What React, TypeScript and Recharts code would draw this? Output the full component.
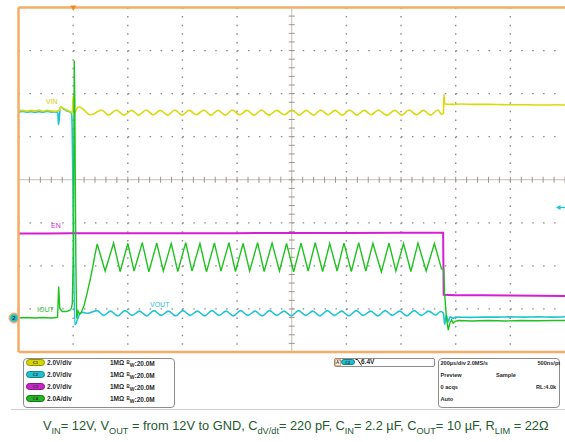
import { LineChart, Line, XAxis, YAxis, ReferenceLine } from "recharts";

type Pt = [number, number];

// x = time in µs (trigger at 0, 200 µs/div), y = screen divisions (centre = 0)
const X_DIVS = [-200, 0, 200, 400, 600, 800, 1000, 1200, 1400, 1600, 1800];
const Y_DIVS = [-4, -3, -2, -1, 0, 1, 2, 3, 4];

const X_MINOR = X_DIVS.slice(0, -1)
  .flatMap((v) => [v, v + 40, v + 80, v + 120, v + 160])
  .concat(1800);
const Y_MINOR = Y_DIVS.slice(0, -1)
  .flatMap((v) => [v, v + 0.2, v + 0.4, v + 0.6, v + 0.8].map((n) => Math.round(n * 10) / 10))
  .concat(4);

// C1 VIN (yellow)
const VIN: Pt[] = [
  [-200, 1.6], [-185, 1.61], [-170, 1.59], [-155, 1.61], [-140, 1.6], [-125, 1.62], [-110, 1.59],
  [-95, 1.61], [-80, 1.6], [-65, 1.59], [-55, 1.6], [-48, 1.63], [-44, 1.7], [-38, 1.67],
  [-30, 1.64], [-20, 1.61], [-10, 1.58], [-3, 1.55], [0, 1.95], [2, 1.9], [5, 1.55], [10, 1.6],
  [16, 1.68], [22, 1.69], [32, 1.66], [45, 1.59], [60, 1.51], [72, 1.52], [88, 1.58],
  [104, 1.62], [129, 1.5], [158, 1.62], [186, 1.5], [214, 1.61], [240, 1.5], [267, 1.62],
  [293, 1.51], [319, 1.61], [346, 1.5], [372, 1.62], [398, 1.5], [425, 1.61], [451, 1.51],
  [478, 1.62], [504, 1.5], [530, 1.61], [557, 1.5], [583, 1.62], [609, 1.51], [636, 1.61],
  [662, 1.5], [689, 1.62], [717, 1.5], [745, 1.61], [773, 1.51], [801, 1.62], [827, 1.5],
  [853, 1.61], [880, 1.5], [906, 1.62], [933, 1.51], [959, 1.61], [985, 1.5], [1012, 1.62],
  [1038, 1.5], [1065, 1.61], [1091, 1.51], [1117, 1.62], [1147, 1.5], [1177, 1.61],
  [1203, 1.5], [1229, 1.62], [1256, 1.51], [1282, 1.61], [1308, 1.5], [1335, 1.62],
  [1348, 1.52], [1355, 1.54], [1357, 1.98], [1360, 1.76], [1380, 1.75], [1420, 1.76],
  [1470, 1.75], [1520, 1.75], [1570, 1.745], [1620, 1.74], [1670, 1.74], [1720, 1.735],
  [1770, 1.74], [1800, 1.735],
];

// C2 VOUT (cyan)
const VOUT: Pt[] = [
  [-200, 1.57], [-185, 1.585], [-170, 1.57], [-155, 1.58], [-140, 1.565], [-125, 1.58],
  [-110, 1.57], [-95, 1.585], [-80, 1.57], [-65, 1.575], [-56, 1.57], [-54, 1.28], [-51, 1.4],
  [-47, 1.69], [-42, 1.68], [-34, 1.64], [-24, 1.6], [-14, 1.58], [-7, 1.55], [-5, 1.5],
  [6, -3.37], [10, -3.34], [16, -3.24], [24, -3.12], [34, -3.08], [50, -3.1], [66, -3.08],
  [88, -3.04], [112, -3.15], [137, -3.05], [163, -3.16], [190, -3.04], [216, -3.15],
  [243, -3.05], [269, -3.16], [296, -3.04], [322, -3.15], [349, -3.05], [375, -3.16],
  [402, -3.04], [428, -3.15], [455, -3.05], [481, -3.16], [508, -3.04], [534, -3.15],
  [560, -3.05], [586, -3.16], [613, -3.04], [639, -3.15], [666, -3.05], [692, -3.16],
  [719, -3.04], [745, -3.15], [772, -3.05], [798, -3.16], [825, -3.04], [851, -3.15],
  [877, -3.05], [903, -3.16], [930, -3.04], [956, -3.15], [983, -3.05], [1009, -3.16],
  [1036, -3.04], [1062, -3.15], [1089, -3.05], [1115, -3.16], [1142, -3.04], [1168, -3.15],
  [1195, -3.05], [1221, -3.16], [1248, -3.04], [1274, -3.15], [1301, -3.05], [1327, -3.14],
  [1345, -3.06], [1355, -3.1], [1360, -3.36], [1366, -3.14], [1372, -3.3], [1380, -3.18],
  [1390, -3.22], [1400, -3.19], [1450, -3.195], [1500, -3.19], [1550, -3.19], [1600, -3.185],
  [1650, -3.19], [1700, -3.185], [1750, -3.19], [1800, -3.18],
];

// C3 EN (magenta)
const EN: Pt[] = [
  [-200, -1.25], [-100, -1.248], [0, -1.245], [200, -1.245], [400, -1.24], [600, -1.24],
  [800, -1.235], [1000, -1.235], [1200, -1.23], [1354, -1.23], [1356, -2.67], [1400, -2.68],
  [1500, -2.685], [1600, -2.69], [1700, -2.695], [1800, -2.7],
];

// C4 IOUT (green)
const IOUT: Pt[] = [
  [-200, -3.21], [-170, -3.2], [-140, -3.21], [-110, -3.2], [-80, -3.21], [-62, -3.2],
  [-57, -3.19], [-53, -2.48], [-49, -2.99], [-40, -3.06], [-24, -3.06], [-12, -3.03],
  [-6, -2.98], [-3, -2.86], [1, -1.5], [4, 2.77], [6, 1.8], [10, -2.0], [13, -3.22],
  [18, -3.05], [24, -3.12], [30, -3.08], [40, -2.92], [50, -2.66], [62, -2.33], [72, -2.02],
  [80, -1.74], [88, -1.49], [117, -2.12], [148, -1.47], [172, -2.13], [200, -1.48],
  [223, -2.12], [253, -1.46], [277, -2.14], [306, -1.47], [330, -2.12], [359, -1.48],
  [383, -2.13], [412, -1.46], [435, -2.12], [464, -1.48], [488, -2.14], [517, -1.47],
  [541, -2.12], [570, -1.46], [594, -2.13], [622, -1.48], [646, -2.12], [675, -1.46],
  [699, -2.13], [728, -1.47], [755, -2.12], [781, -1.48], [807, -2.14], [834, -1.47],
  [860, -2.12], [886, -1.46], [913, -2.13], [939, -1.48], [966, -2.12], [991, -1.47],
  [1018, -2.13], [1045, -1.46], [1071, -2.12], [1097, -1.48], [1128, -2.14], [1156, -1.47],
  [1181, -2.12], [1209, -1.48], [1236, -2.13], [1262, -1.47], [1292, -2.12], [1322, -1.48],
  [1348, -2.07], [1356, -2.08], [1359, -2.6], [1366, -3.2], [1373, -3.49], [1379, -3.32],
  [1385, -3.25], [1391, -3.33], [1398, -3.29], [1410, -3.27], [1460, -3.28], [1520, -3.27],
  [1580, -3.28], [1640, -3.27], [1700, -3.275], [1760, -3.27], [1800, -3.27],
];

const CHANNELS = [
  { id: "C1", scale: "2.0V/div", fill: "#d6d600", edge: "#8f8f00" },
  { id: "C2", scale: "2.0V/div", fill: "#20c0d0", edge: "#127f8a" },
  { id: "C3", scale: "2.0V/div", fill: "#c826c8", edge: "#801880" },
  { id: "C4", scale: "2.0A/div", fill: "#22b822", edge: "#147414" },
];

const YELLOW = "#dada0a";
const CYAN = "#1ec4d4";
const MAGENTA = "#d61ed6";
const GREEN = "#1fc21f";
const ORANGE = "#f3ad66";
const GRID = "#8a8a8a";
const CENTER = "#c4beb2";

const rows = (pts: Pt[]) => pts.map(([t, v]) => ({ t, v }));

const panelText: React.CSSProperties = {
  position: "absolute",
  fontSize: 6.5,
  fontWeight: 700,
  color: "#2a2a2a",
  lineHeight: "8px",
  whiteSpace: "nowrap",
};
const acqText: React.CSSProperties = { ...panelText, fontSize: 5.6 };

const ROW_Y = [358.5, 370.5, 382.5, 394.5];
const sub: React.CSSProperties = { fontSize: 9.2 };

function Bw() {
  return (
    <span>
      <span style={{ fontSize: 4.5, verticalAlign: 2 }}>B</span>
      <span style={{ fontSize: 5, verticalAlign: -1 }}>W</span>:20.0M
    </span>
  );
}

export default function App() {
  return (
    <div
      style={{
        position: "absolute",
        left: 0,
        top: 0,
        width: 565,
        height: 442,
        overflow: "hidden",
        background: "#fff",
        fontFamily: "'Liberation Sans', Arial, sans-serif",
      }}
    >
      <LineChart width={570} height={360} margin={{ top: 7.5, right: 5, bottom: 8, left: 18.5 }}>
        <XAxis
          dataKey="t"
          type="number"
          domain={[-200, 1800]}
          ticks={X_MINOR}
          interval={0}
          mirror
          tick={false}
          tickSize={3}
          tickLine={{ stroke: "#9a9a9a" }}
          axisLine={{ stroke: ORANGE, strokeWidth: 2.5 }}
          allowDataOverflow
        />
        <XAxis
          xAxisId="top"
          orientation="top"
          type="number"
          domain={[-200, 1800]}
          ticks={X_MINOR}
          interval={0}
          mirror
          tick={false}
          tickSize={3}
          tickLine={{ stroke: "#9a9a9a" }}
          axisLine={{ stroke: ORANGE, strokeWidth: 2.5 }}
        />
        <YAxis
          type="number"
          domain={[-4, 4]}
          ticks={Y_MINOR}
          interval={0}
          mirror
          tick={false}
          tickSize={3}
          tickLine={{ stroke: "#9a9a9a" }}
          axisLine={{ stroke: ORANGE, strokeWidth: 2.5 }}
          allowDataOverflow
        />
        <YAxis
          yAxisId="r"
          orientation="right"
          type="number"
          domain={[-4, 4]}
          ticks={Y_MINOR}
          interval={0}
          mirror
          tick={false}
          tickSize={3}
          tickLine={{ stroke: "#9a9a9a" }}
          axisLine={false}
        />

        {X_DIVS.filter((v) => v !== -200 && v !== 800 && v !== 1800).map((v) => (
          <ReferenceLine
            key={"gx" + v}
            segment={[{ x: v, y: 4 }, { x: v, y: -4 }]}
            stroke={GRID}
            strokeWidth={1.4}
            strokeDasharray="1.5 7.11"
          />
        ))}
        {Y_DIVS.filter((v) => v !== -4 && v !== 0 && v !== 4).map((v) => (
          <ReferenceLine key={"gy" + v} y={v} stroke={GRID} strokeWidth={1.3} strokeDasharray="1.5 9.43" />
        ))}
        <ReferenceLine x={800} stroke={CENTER} />
        <ReferenceLine y={0} stroke={CENTER} />
        {X_MINOR.map((v) => (
          <ReferenceLine
            key={"tx" + v}
            segment={[{ x: v, y: -0.07 }, { x: v, y: 0.07 }]}
            stroke="#9e9788"
          />
        ))}
        {Y_MINOR.map((v) => (
          <ReferenceLine
            key={"ty" + v}
            segment={[{ x: 789, y: v }, { x: 811, y: v }]}
            stroke="#9e9788"
          />
        ))}

        <Line data={rows(VOUT)} dataKey="v" type="monotone" stroke={CYAN} strokeWidth={1.6} dot={false} activeDot={false} isAnimationActive={false} />
        <Line data={rows(VIN)} dataKey="v" type="monotone" stroke={YELLOW} strokeWidth={1.6} dot={false} activeDot={false} isAnimationActive={false} />
        <Line data={rows(EN)} dataKey="v" type="linear" stroke={MAGENTA} strokeWidth={2} dot={false} activeDot={false} isAnimationActive={false} />
        <Line data={rows(IOUT)} dataKey="v" type="linear" stroke={GREEN} strokeWidth={1.4} dot={false} activeDot={false} isAnimationActive={false} />
      </LineChart>

      {/* trace labels and scope markers */}
      <div style={{ position: "absolute", left: 46, top: 98, fontSize: 7, color: "#d8cc00" }}>VIN</div>
      <div style={{ position: "absolute", left: 51, top: 221.5, fontSize: 7, color: MAGENTA }}>EN</div>
      <div style={{ position: "absolute", left: 37, top: 305.5, fontSize: 7, color: GREEN }}>IOUT</div>
      <div style={{ position: "absolute", left: 150, top: 300.5, fontSize: 7, color: CYAN }}>VOUT</div>
      <svg width={565} height={360} style={{ position: "absolute", left: 0, top: 0 }}>
        <polygon points="70.3,5.5 76.3,5.5 73.3,11" fill="#f08c1e" />
        <circle cx={14} cy={318} r={4.6} fill={CYAN} stroke={ORANGE} strokeWidth={1.6} />
        <text x={14} y={320.2} fontSize={6} textAnchor="middle" fill="#1a3a40" fontWeight={700}>2</text>
        <polygon points="556,207.5 560.5,205 560.5,210" fill={CYAN} />
        <line x1={560} y1={207.5} x2={565} y2={207.5} stroke={CYAN} strokeWidth={1.4} />
      </svg>

      {/* channel panel */}
      <div
        style={{
          position: "absolute",
          left: 22.5,
          top: 357.5,
          width: 152,
          height: 50,
          border: "1px solid #8c8c8c",
          borderRadius: 4,
          boxSizing: "border-box",
        }}
      />
      {CHANNELS.map((c, i) => (
        <div key={c.id}>
          <div
            style={{
              position: "absolute",
              left: 26,
              top: ROW_Y[i] + 0.5,
              width: 19,
              height: 7,
              borderRadius: 3.5,
              background: c.fill,
              border: `0.8px solid ${c.edge}`,
              boxSizing: "border-box",
              fontSize: 4.2,
              lineHeight: "6px",
              textAlign: "center",
              color: "#333",
              fontWeight: 700,
            }}
          >
            {c.id}
          </div>
          <div style={{ ...panelText, left: 47, top: ROW_Y[i] }}>{c.scale}</div>
          <div style={{ ...panelText, left: 110, top: ROW_Y[i] }}>1MΩ</div>
          <div style={{ ...panelText, left: 126.5, top: ROW_Y[i] }}>
            <Bw />
          </div>
        </div>
      ))}

      {/* trigger panel */}
      <div
        style={{
          position: "absolute",
          left: 334,
          top: 357.5,
          width: 101,
          height: 9.5,
          border: "1px solid #8c8c8c",
          borderRadius: 2,
          boxSizing: "border-box",
        }}
      />
      <div
        style={{
          position: "absolute",
          left: 335,
          top: 358.5,
          width: 5.5,
          height: 7,
          border: `1px solid ${ORANGE}`,
          boxSizing: "border-box",
          fontSize: 4.5,
          lineHeight: "5px",
          textAlign: "center",
          fontWeight: 700,
          color: "#333",
        }}
      >
        A'
      </div>
      <div
        style={{
          position: "absolute",
          left: 341,
          top: 359,
          width: 13.5,
          height: 6,
          borderRadius: 3,
          background: CHANNELS[1].fill,
          border: `0.8px solid ${CHANNELS[1].edge}`,
          boxSizing: "border-box",
          fontSize: 4,
          lineHeight: "5px",
          textAlign: "center",
          fontWeight: 700,
          color: "#333",
        }}
      >
        C2
      </div>
      <svg width={8} height={9} style={{ position: "absolute", left: 354.5, top: 358 }}>
        <polyline points="0.5,1.5 2.5,1.5 6.5,7.5" fill="none" stroke="#222" strokeWidth={1} />
      </svg>
      <div style={{ ...panelText, left: 361, top: 358.3 }}>6.4V</div>

      {/* acquisition panel */}
      <div
        style={{
          position: "absolute",
          left: 438,
          top: 357.5,
          width: 122,
          height: 50,
          border: "1px solid #8c8c8c",
          borderRadius: 4,
          boxSizing: "border-box",
        }}
      />
      <div style={{ ...acqText, left: 440.5, top: ROW_Y[0] }}>200µs/div</div>
      <div style={{ ...acqText, left: 467, top: ROW_Y[0] }}>2.0MS/s</div>
      <div style={{ ...acqText, left: 537.5, top: ROW_Y[0] }}>500ns/pt</div>
      <div style={{ ...acqText, left: 440.5, top: ROW_Y[1] }}>Preview</div>
      <div style={{ ...acqText, left: 496, top: ROW_Y[1] }}>Sample</div>
      <div style={{ ...acqText, left: 440.5, top: ROW_Y[2] }}>0 acqs</div>
      <div style={{ ...acqText, left: 536, top: ROW_Y[2] }}>RL:4.0k</div>
      <div style={{ ...acqText, left: 440.5, top: ROW_Y[3] }}>Auto</div>

      <div style={{ position: "absolute", left: 11, top: 409, width: 554, height: 1, background: "#d0d0d0" }} />

      {/* test conditions */}
      <div
        style={{
          position: "absolute",
          left: 43,
          top: 419,
          fontSize: 12.8,
          color: "#245a2e",
          whiteSpace: "nowrap",
          lineHeight: "14px",
        }}
      >
        V<sub style={sub}>IN</sub>= 12V, V<sub style={sub}>OUT</sub> = from 12V to GND, C
        <sub style={sub}>dV/dt</sub>= 220 pF, C<sub style={sub}>IN</sub>= 2.2 µF, C
        <sub style={sub}>OUT</sub>= 10 µF, R<sub style={sub}>LIM</sub> = 22Ω
      </div>
    </div>
  );
}
